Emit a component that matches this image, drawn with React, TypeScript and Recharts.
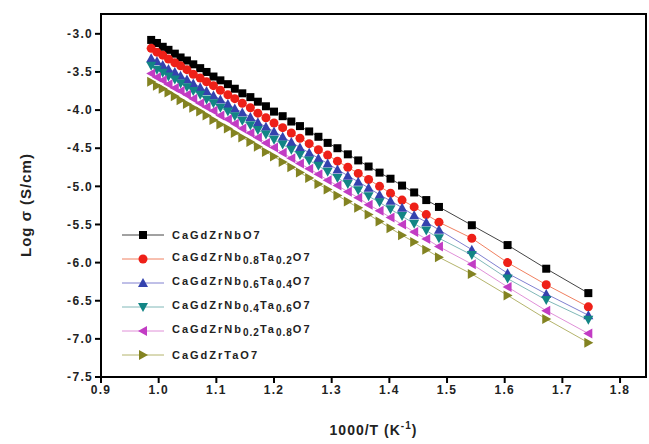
import { LineChart, Line, XAxis, YAxis, ReferenceArea } from "recharts";

// 1000/T values (K^-1)
const X_VALUES = [
  0.987, 0.997, 1.007, 1.017, 1.028, 1.038, 1.049, 1.06, 1.072, 1.083, 1.095, 1.107, 1.12,
  1.132, 1.145, 1.159, 1.172, 1.186, 1.2, 1.215, 1.23, 1.245, 1.261, 1.277, 1.293, 1.31,
  1.328, 1.346, 1.364, 1.383, 1.402, 1.422, 1.443, 1.464, 1.486, 1.543, 1.605, 1.672, 1.745,
];

const NB10 = [
  -3.08, -3.12, -3.17, -3.21, -3.26, -3.31, -3.35, -3.4, -3.45, -3.5, -3.56, -3.61, -3.66,
  -3.72, -3.78, -3.83, -3.89, -3.95, -4.02, -4.08, -4.15, -4.21, -4.28, -4.35, -4.43, -4.5,
  -4.58, -4.66, -4.74, -4.82, -4.9, -4.99, -5.08, -5.18, -5.27, -5.51, -5.77, -6.08, -6.4,
];
const NB08 = [
  -3.19, -3.24, -3.28, -3.33, -3.38, -3.42, -3.47, -3.53, -3.58, -3.63, -3.68, -3.74, -3.8,
  -3.85, -3.91, -3.97, -4.04, -4.1, -4.17, -4.23, -4.3, -4.37, -4.44, -4.52, -4.59, -4.67,
  -4.75, -4.83, -4.91, -5.0, -5.09, -5.18, -5.27, -5.37, -5.47, -5.68, -6.0, -6.29, -6.58,
];
const NB06 = [
  -3.32, -3.36, -3.41, -3.46, -3.5, -3.55, -3.6, -3.65, -3.7, -3.75, -3.81, -3.86, -3.92,
  -3.98, -4.03, -4.09, -4.16, -4.22, -4.28, -4.35, -4.42, -4.49, -4.56, -4.63, -4.7, -4.78,
  -4.86, -4.94, -5.02, -5.11, -5.19, -5.28, -5.38, -5.47, -5.57, -5.83, -6.14, -6.41, -6.69,
];
const NB04 = [
  -3.42, -3.47, -3.51, -3.56, -3.6, -3.65, -3.7, -3.75, -3.8, -3.86, -3.91, -3.97, -4.02,
  -4.08, -4.14, -4.2, -4.26, -4.32, -4.39, -4.45, -4.52, -4.59, -4.66, -4.73, -4.81, -4.89,
  -4.97, -5.05, -5.13, -5.21, -5.3, -5.39, -5.49, -5.58, -5.68, -5.9, -6.21, -6.49, -6.75,
];
const NB02 = [
  -3.52, -3.57, -3.61, -3.66, -3.71, -3.75, -3.8, -3.85, -3.91, -3.96, -4.01, -4.07, -4.12,
  -4.18, -4.24, -4.3, -4.36, -4.43, -4.49, -4.56, -4.63, -4.7, -4.77, -4.84, -4.92, -4.99,
  -5.07, -5.15, -5.24, -5.32, -5.41, -5.5, -5.6, -5.69, -5.79, -6.02, -6.32, -6.63, -6.93,
];
const TA10 = [
  -3.63, -3.68, -3.72, -3.77, -3.82, -3.87, -3.92, -3.97, -4.02, -4.07, -4.13, -4.19, -4.24,
  -4.3, -4.36, -4.42, -4.48, -4.55, -4.61, -4.68, -4.75, -4.82, -4.89, -4.97, -5.04, -5.12,
  -5.2, -5.28, -5.37, -5.46, -5.55, -5.64, -5.73, -5.83, -5.93, -6.15, -6.43, -6.74, -7.05,
];

const X_TICKS = [0.9, 1.0, 1.1, 1.2, 1.3, 1.4, 1.5, 1.6, 1.7, 1.8];
const Y_TICKS = [-7.5, -7.0, -6.5, -6.0, -5.5, -5.0, -4.5, -4.0, -3.5, -3.0];

// legend text pieces: [main, sub, main, sub, main]
const LABELS = [
  ["CaGdZrNbO7"],
  ["CaGdZrNb", "0.8", "Ta", "0.2", "O7"],
  ["CaGdZrNb", "0.6", "Ta", "0.4", "O7"],
  ["CaGdZrNb", "0.4", "Ta", "0.6", "O7"],
  ["CaGdZrNb", "0.2", "Ta", "0.8", "O7"],
  ["CaGdZrTaO7"],
];

type Shape = "square" | "circle" | "up" | "down" | "left" | "right";

const SERIES: { key: string; values: number[]; shape: Shape; fill: string; line: string }[] = [
  { key: "nb10", values: NB10, shape: "square", fill: "#000000", line: "#444444" },
  { key: "nb08", values: NB08, shape: "circle", fill: "#ee2018", line: "#f08060" },
  { key: "nb06", values: NB06, shape: "up", fill: "#3442ae", line: "#8080d0" },
  { key: "nb04", values: NB04, shape: "down", fill: "#128585", line: "#80b8b8" },
  { key: "nb02", values: NB02, shape: "left", fill: "#c23cc4", line: "#e090d8" },
  { key: "ta10", values: TA10, shape: "right", fill: "#838321", line: "#b4b46c" },
];

const rows = X_VALUES.map((x, i) => {
  const r: Record<string, number> = { x };
  SERIES.forEach((s) => (r[s.key] = s.values[i]));
  return r;
});

const FONT = "'Liberation Sans', Arial, sans-serif";

function Marker({ shape, cx, cy, fill }: { shape: Shape; cx: number; cy: number; fill: string }) {
  if (cx == null || cy == null) return null;
  const s = 5;
  switch (shape) {
    case "square":
      return <rect x={cx - 4} y={cy - 4} width={8} height={8} fill={fill} />;
    case "circle":
      return <circle cx={cx} cy={cy} r={4.5} fill={fill} />;
    case "up":
      return <polygon points={`${cx},${cy - s} ${cx + s},${cy + s - 1} ${cx - s},${cy + s - 1}`} fill={fill} />;
    case "down":
      return <polygon points={`${cx},${cy + s} ${cx + s},${cy - s + 1} ${cx - s},${cy - s + 1}`} fill={fill} />;
    case "left":
      return <polygon points={`${cx - s},${cy} ${cx + s - 1},${cy - s} ${cx + s - 1},${cy + s}`} fill={fill} />;
    default:
      return <polygon points={`${cx + s},${cy} ${cx - s + 1},${cy - s} ${cx - s + 1},${cy + s}`} fill={fill} />;
  }
}

const tickStyle = { fill: "#222", fontSize: 12, fontWeight: 700, fontFamily: FONT, letterSpacing: 1.3 };

function XTitle({ viewBox }: any) {
  const cx = viewBox.x + viewBox.width / 2;
  return (
    <text x={cx} y={viewBox.y + 58} textAnchor="middle" fontFamily={FONT} fontWeight={700} fontSize={14} fill="#222" letterSpacing={1}>
      1000/T (K
      <tspan dy={-6} fontSize={10}>-1</tspan>
      <tspan dy={6}>)</tspan>
    </text>
  );
}

function YTitle() {
  return (
    <text x={31} y={205} transform="rotate(-90 31 205)" textAnchor="middle" fontFamily={FONT} fontWeight={700} fontSize={15} fill="#222" letterSpacing={1}>
      Log σ (S/cm)
    </text>
  );
}

function LegendBox() {
  return (
    <div style={{ position: "absolute", left: 120, top: 223, fontFamily: FONT, fontWeight: 700, fontSize: 11, color: "#222", letterSpacing: 2 }}>
      {SERIES.map((s, i) => (
        <div key={s.key} style={{ display: "flex", alignItems: "center", height: 24 }}>
          <svg width={48} height={14} style={{ marginRight: 4 }}>
            <line x1={2} y1={7} x2={44} y2={7} stroke={s.line} strokeWidth={1} />
            <Marker shape={s.shape} cx={23} cy={7} fill={s.fill} />
          </svg>
          <span style={{ whiteSpace: "nowrap" }}>
            {LABELS[i].map((part, j) =>
              j % 2 === 1 ? (
                <sub key={j} style={{ fontSize: 10, letterSpacing: 1 }}>{part}</sub>
              ) : (
                <span key={j}>{part}</span>
              )
            )}
          </span>
        </div>
      ))}
    </div>
  );
}

export default function App() {
  return (
    <div style={{ position: "absolute", left: 0, top: 0, width: 649, height: 444, background: "#fff" }}>
      <LineChart width={649} height={444} data={rows} margin={{ top: 14, right: 3, bottom: 37, left: 41 }}>
        <XAxis
          type="number"
          dataKey="x"
          domain={[0.9, 1.845]}
          ticks={X_TICKS}
          allowDataOverflow
          tickFormatter={(v: number) => v.toFixed(1)}
          tick={tickStyle}
          tickSize={6}
          height={30}
          axisLine={{ stroke: "#000", strokeWidth: 2 }}
          tickLine={{ stroke: "#000", strokeWidth: 2 }}
          label={<XTitle />}
        />
        <YAxis
          type="number"
          domain={[-7.5, -2.74]}
          ticks={Y_TICKS}
          allowDataOverflow
          tickFormatter={(v: number) => v.toFixed(1)}
          tick={tickStyle}
          tickSize={6}
          width={60}
          axisLine={{ stroke: "#000", strokeWidth: 2 }}
          tickLine={{ stroke: "#000", strokeWidth: 2 }}
          label={<YTitle />}
        />
        <ReferenceArea x1={0.9} x2={1.845} y1={-7.5} y2={-2.74} fill="none" stroke="#000" strokeWidth={2} />
        {SERIES.map((s) => (
          <Line
            key={s.key}
            dataKey={s.key}
            stroke={s.line}
            strokeWidth={1}
            isAnimationActive={false}
            dot={(p: any) => <Marker key={`${s.key}-${p.index}`} shape={s.shape} cx={p.cx} cy={p.cy} fill={s.fill} />}
            activeDot={false}
          />
        ))}
      </LineChart>
      <LegendBox />
    </div>
  );
}
